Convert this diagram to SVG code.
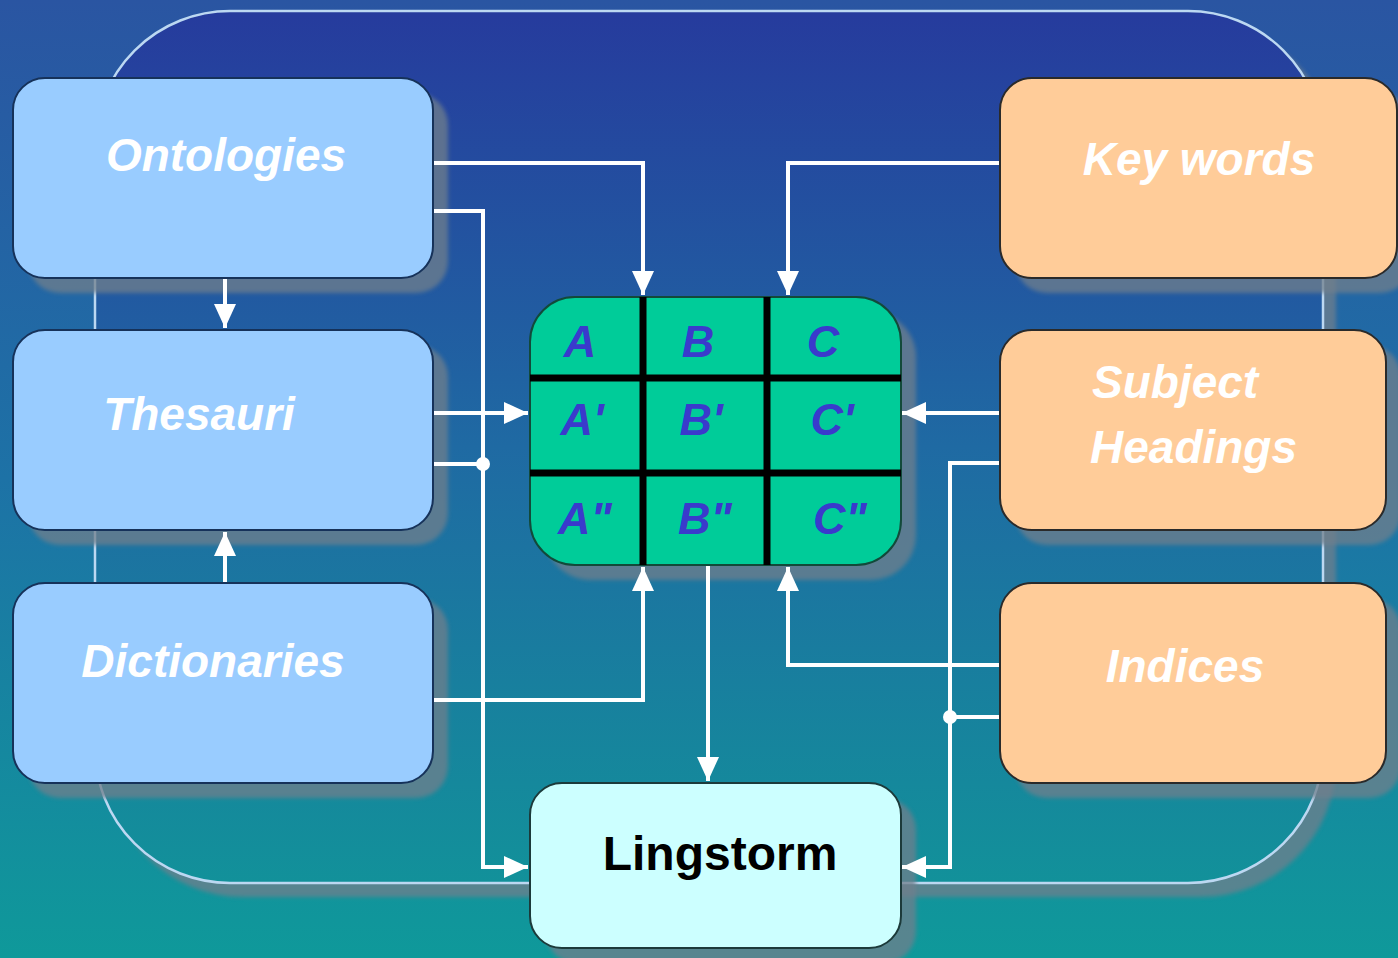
<svg xmlns="http://www.w3.org/2000/svg" width="1398" height="958" viewBox="0 0 1398 958">
<defs>
<linearGradient id="bg" x1="0" y1="0" x2="0" y2="1">
<stop offset="0" stop-color="#2a55a2"/>
<stop offset="0.5" stop-color="#1d72a6"/>
<stop offset="1" stop-color="#0f999a"/>
</linearGradient>
<linearGradient id="frame" x1="0" y1="0" x2="0" y2="1">
<stop offset="0" stop-color="#263b9d"/>
<stop offset="0.5" stop-color="#1f6aa3"/>
<stop offset="1" stop-color="#12919a"/>
</linearGradient>
<filter id="blur" x="-5%" y="-5%" width="110%" height="110%"><feGaussianBlur stdDeviation="2"/></filter>
<marker id="ah" markerUnits="userSpaceOnUse" markerWidth="24" markerHeight="24" refX="24" refY="12" orient="auto">
<path d="M0,1 L24,12 L0,23 z" fill="#ffffff"/>
</marker>
</defs>
<style>
.shadow{fill:#6f7f8c;opacity:0.75;filter:url(#blur)}
.blue{fill:#99ccff;stroke:#16325a;stroke-width:2}
.orange{fill:#ffcc99;stroke:#2a2a2a;stroke-width:2}
.lbl{font-family:"Liberation Sans",Arial,sans-serif;font-size:46px;font-weight:bold;font-style:italic;fill:#ffffff}
.cell{font-family:"Liberation Sans",Arial,sans-serif;font-size:45px;font-weight:bold;font-style:italic;fill:#3a3acc;text-anchor:middle}
.wire{fill:none;stroke:#ffffff;stroke-width:4}
.gl{stroke:#000000;stroke-width:7}
</style>
<rect width="1398" height="958" fill="url(#bg)"/>
<g id="frame-outline">
<rect x="108" y="24" width="1228" height="873" rx="135" class="shadow"/>
<rect x="95" y="11" width="1228" height="872" rx="135" fill="url(#frame)" stroke="#bcd8f2" stroke-width="2.5"/>
</g>
<g id="shadows">
<rect x="28" y="93" width="420" height="200" rx="32" class="shadow"/>
<rect x="28" y="345" width="420" height="200" rx="32" class="shadow"/>
<rect x="28" y="598" width="420" height="200" rx="32" class="shadow"/>
<rect x="1015" y="93" width="397" height="200" rx="32" class="shadow"/>
<rect x="1015" y="345" width="386" height="200" rx="32" class="shadow"/>
<rect x="1015" y="598" width="386" height="200" rx="32" class="shadow"/>
<rect x="545" y="312" width="371" height="268" rx="45" class="shadow"/>
<rect x="545" y="798" width="371" height="165" rx="32" class="shadow"/>
</g>
<g id="connectors">
<path class="wire" d="M433,163 H643 V295" marker-end="url(#ah)"/>
<path class="wire" d="M433,211 H483 V867 H528" marker-end="url(#ah)"/>
<path class="wire" d="M433,413 H528" marker-end="url(#ah)"/>
<path class="wire" d="M433,464 H483"/>
<circle cx="483" cy="464" r="7" fill="#ffffff"/>
<path class="wire" d="M433,700 H643 V567" marker-end="url(#ah)"/>
<path class="wire" d="M225,278 V328" marker-end="url(#ah)"/>
<path class="wire" d="M225,583 V532" marker-end="url(#ah)"/>
<path class="wire" d="M708,565 V781" marker-end="url(#ah)"/>
<path class="wire" d="M1000,163 H788 V295" marker-end="url(#ah)"/>
<path class="wire" d="M1000,413 H902" marker-end="url(#ah)"/>
<path class="wire" d="M1000,463 H950 V867 H902" marker-end="url(#ah)"/>
<path class="wire" d="M1000,665 H788 V567" marker-end="url(#ah)"/>
<path class="wire" d="M1000,717 H950"/>
<circle cx="950" cy="717" r="7" fill="#ffffff"/>
</g>
<g id="ontologies">
<rect x="13" y="78" width="420" height="200" rx="32" class="blue"/>
<text x="226" y="171" class="lbl" text-anchor="middle">Ontologies</text>
</g>
<g id="thesauri">
<rect x="13" y="330" width="420" height="200" rx="32" class="blue"/>
<text x="199" y="430" class="lbl" text-anchor="middle">Thesauri</text>
</g>
<g id="dictionaries">
<rect x="13" y="583" width="420" height="200" rx="32" class="blue"/>
<text x="213" y="677" class="lbl" text-anchor="middle">Dictionaries</text>
</g>
<g id="keywords">
<rect x="1000" y="78" width="397" height="200" rx="32" class="orange"/>
<text x="1199" y="175" class="lbl" text-anchor="middle">Key words</text>
</g>
<g id="subject-headings">
<rect x="1000" y="330" width="386" height="200" rx="32" class="orange"/>
<text x="1092" y="398" class="lbl">Subject</text>
<text x="1090" y="463" class="lbl">Headings</text>
</g>
<g id="indices">
<rect x="1000" y="583" width="386" height="200" rx="32" class="orange"/>
<text x="1185" y="682" class="lbl" text-anchor="middle">Indices</text>
</g>
<g id="grid">
<rect x="530" y="297" width="371" height="268" rx="45" fill="#00cc99" stroke="#124a3a" stroke-width="2"/>
<line class="gl" x1="643" y1="297" x2="643" y2="565"/>
<line class="gl" x1="767" y1="297" x2="767" y2="565"/>
<line class="gl" x1="530" y1="378" x2="901" y2="378"/>
<line class="gl" x1="530" y1="473" x2="901" y2="473"/>
<text class="cell" x="580" y="357">A</text>
<text class="cell" x="698" y="357">B</text>
<text class="cell" x="823" y="357">C</text>
<text class="cell" x="582" y="435">A'</text>
<text class="cell" x="701" y="435">B'</text>
<text class="cell" x="832" y="435">C'</text>
<text class="cell" x="585" y="534">A"</text>
<text class="cell" x="705" y="534">B"</text>
<text class="cell" x="840" y="534">C"</text>
</g>
<g id="lingstorm">
<rect x="530" y="783" width="371" height="165" rx="32" fill="#ccffff" stroke="#1c3a3a" stroke-width="2"/>
<text x="720" y="870" font-family="Liberation Sans, Arial, sans-serif" font-size="48" font-weight="bold" fill="#000000" text-anchor="middle">Lingstorm</text>
</g>
</svg>
